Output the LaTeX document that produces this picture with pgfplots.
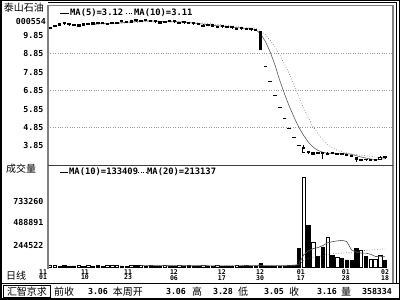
\documentclass[border=0pt]{standalone}
\usepackage{pgfplots}
\pgfplotsset{compat=1.18}
\usepackage{pgfplotstable}
\usepackage{fontspec}
\setmainfont{DejaVu Sans Mono}
\newfontfamily\cjk{Noto Sans CJK SC}
\newcommand\nf{\fontsize{8.3}{9}\selectfont\bfseries}
\newcommand\lf{\fontsize{8.8}{9}\selectfont\bfseries}
\newcommand\df{\fontsize{6.5}{5.4}\selectfont\bfseries}
\newcommand\cf{\cjk\fontsize{10}{11}\selectfont}

\pgfplotstableread{
i o h l c v
0 10.18 10.28 10.15 10.24 15
1 10.30 10.40 10.28 10.36 22
2 10.39 10.50 10.37 10.45 12
6 10.33 10.42 10.31 10.39 20
7 10.39 10.48 10.37 10.45 9
8 10.41 10.51 10.39 10.47 16
9 10.44 10.54 10.42 10.50 12
12 10.41 10.50 10.39 10.47 14
13 10.45 10.55 10.43 10.51 20
14 10.49 10.58 10.47 10.55 16
16 10.52 10.62 10.50 10.58 9
17 10.55 10.66 10.53 10.61 15
19 10.56 10.66 10.54 10.62 13
23 10.50 10.60 10.48 10.56 11
24 10.51 10.61 10.49 10.57 19
27 10.48 10.58 10.46 10.54 15
32 10.32 10.42 10.30 10.38 21
35 10.24 10.34 10.22 10.30 16
39 10.14 10.24 10.12 10.20 15
53 3.50 3.88 3.50 3.74 1000
55 3.41 3.50 3.39 3.47 275
58 3.39 3.50 3.37 3.45 325
60 3.39 3.47 3.37 3.45 108
65 3.04 3.14 3.02 3.10 180
67 3.06 3.16 3.04 3.12 90
68 3.07 3.17 3.05 3.13 90
69 3.14 3.28 3.12 3.24 135
}\upT

\pgfplotstableread{
i o h l c v
3 10.51 10.53 10.40 10.44 18
4 10.47 10.49 10.36 10.40 10
5 10.45 10.47 10.34 10.38 14
10 10.55 10.57 10.45 10.48 18
11 10.54 10.56 10.44 10.47 11
15 10.64 10.66 10.54 10.57 12
18 10.68 10.70 10.58 10.61 22
20 10.69 10.71 10.59 10.62 10
21 10.67 10.69 10.57 10.60 17
22 10.62 10.64 10.52 10.55 14
25 10.63 10.65 10.53 10.56 13
26 10.62 10.64 10.52 10.55 9
28 10.57 10.59 10.47 10.50 12
29 10.54 10.56 10.44 10.47 18
30 10.51 10.53 10.41 10.44 10
31 10.47 10.49 10.37 10.40 14
33 10.42 10.44 10.32 10.35 12
34 10.40 10.42 10.30 10.33 9
36 10.35 10.37 10.25 10.28 11
37 10.33 10.35 10.23 10.26 13
38 10.30 10.32 10.20 10.23 10
40 10.24 10.26 10.14 10.17 12
41 10.21 10.23 10.11 10.14 17
42 10.19 10.21 10.09 10.12 9
43 10.15 10.17 10.05 10.08 14
44 10.03 10.05 9.04 9.04 38
54 3.55 3.60 3.40 3.47 466
56 3.50 3.52 3.42 3.46 120
57 3.48 3.50 3.12 3.42 225
59 3.51 3.53 3.44 3.48 130
61 3.44 3.46 3.36 3.40 92
62 3.41 3.43 3.33 3.36 80
63 3.34 3.36 3.25 3.28 72
64 3.24 3.26 2.98 3.12 205
66 3.14 3.16 3.06 3.10 120
70 3.26 3.28 3.16 3.20 72
}\downT

\pgfplotstableread{
i c v
45 8.14 8
46 7.32 6
47 6.59 7
48 5.93 9
49 5.34 12
50 4.80 15
51 4.32 25
52 3.89 205
}\flatT

\pgfplotstableread{
i ma5 ma10
9 10.438 10.408
11 10.474 10.443
13 10.486 10.452
15 10.514 10.486
17 10.564 10.521
19 10.598 10.547
21 10.612 10.574
23 10.590 10.587
25 10.568 10.588
27 10.556 10.578
29 10.524 10.552
31 10.470 10.514
33 10.408 10.476
35 10.352 10.426
37 10.304 10.371
39 10.254 10.317
41 10.200 10.264
43 10.142 10.211
44 9.910 10.082
45 9.504 9.866
46 8.940 9.570
47 8.234 9.203
48 7.404 8.773
49 6.664 8.287
50 5.996 7.750
51 5.396 7.168
52 4.856 6.545
53 4.418 5.911
54 4.044 5.354
55 3.778 4.887
56 3.606 4.501
57 3.512 4.184
58 3.454 3.936
59 3.456 3.750
60 3.452 3.615
61 3.440 3.523
62 3.428 3.470
63 3.394 3.424
64 3.322 3.389
65 3.252 3.352
66 3.192 3.316
67 3.144 3.286
68 3.114 3.254
69 3.138 3.230
70 3.158 3.205
}\maT

\pgfplotstableread{
i m10 m20
19 15.0 14.9
29 13.8 14.4
39 13.1 13.45
44 15.5 14.4
48 13.5 13.9
51 14.3 13.95
52 34.0 23.0
53 135.0 73.0
54 178.0 96.0
55 205.0 109.0
56 216.0 115.0
57 238.0 126.0
58 269.0 142.0
59 281.0 148.0
60 290.0 152.0
61 296.0 156.0
62 283.0 159.0
63 190.0 162.0
64 164.0 171.0
65 155.0 179.0
66 155.0 185.0
67 141.0 189.0
68 117.0 193.0
69 118.0 199.0
70 113.0 202.0
}\vmaT

\begin{document}
\begin{tikzpicture}
\useasboundingbox (0pt,0pt) rectangle (400pt,300pt);
\fill[white] (0pt,0pt) rectangle (400pt,300pt);

% ---------- price panel ----------
\begin{axis}[at={(48pt,135pt)}, anchor=south west, scale only axis,
  width=345pt, height=159pt,
  xmin=-0.42, xmax=71.67, ymin=2.82, ymax=11.42,
  xtick=\empty,
  ytick={3.85,4.85,5.85,6.85,7.85,8.85,9.85},
  yticklabels={3.85,4.85,5.85,6.85,7.85,8.85,9.85},
  yticklabel style={font=\nf, xshift=-1pt},
  major tick length=0pt,
  extra y ticks={4.85,6.85,8.85}, extra y tick labels={},
  extra y tick style={grid=major, major grid style={gray!80, dotted, line width=0.7pt}},
  axis line style={draw=none}]
\addplot[gray!70!black, line width=0.6pt] table[x=i,y=ma5]{\maT};
\addplot[gray!70!black, line width=0.6pt, dotted] table[x=i,y=ma10]{\maT};
% wicks
\addplot[draw=none, error bars/.cd, y dir=plus, y explicit, error mark=none,
  error bar style={draw=black, line width=0.6pt}]
  table[x=i, y=l, y error expr=\thisrow{h}-\thisrow{l}]{\downT};
\addplot[draw=none, error bars/.cd, y dir=plus, y explicit, error mark=none,
  error bar style={draw=black, line width=0.6pt}]
  table[x=i, y=l, y error expr=\thisrow{h}-\thisrow{l}]{\upT};
% falling bodies
\addplot[draw=none, error bars/.cd, y dir=both, y explicit, error mark=none,
  error bar style={draw=black, line width=3.4pt}]
  table[x=i, y expr=(\thisrow{o}+\thisrow{c})/2, y error expr=(\thisrow{o}-\thisrow{c})/2+0.02]{\downT};
% rising bodies (hollow)
\addplot[draw=none, error bars/.cd, y dir=both, y explicit, error mark=none,
  error bar style={draw=black, line width=3.6pt}]
  table[x=i, y expr=(\thisrow{o}+\thisrow{c})/2, y error expr=(\thisrow{c}-\thisrow{o})/2+0.03]{\upT};
\addplot[draw=none, error bars/.cd, y dir=both, y explicit, error mark=none,
  error bar style={draw=white, line width=1.8pt}]
  table[x=i, y expr=(\thisrow{o}+\thisrow{c})/2, y error expr=(\thisrow{c}-\thisrow{o})/2-0.03]{\upT};
% limit days
\addplot[only marks, mark=-, mark size=1.8pt, mark options={black, line width=0.9pt}]
  table[x=i,y=c]{\flatT};
\end{axis}

% ---------- volume panel ----------
\begin{axis}[at={(48pt,31pt)}, anchor=south west, scale only axis,
  width=345pt, height=104pt,
  xmin=-0.42, xmax=71.67, ymin=-22, ymax=1133,
  xtick=\empty,
  ytick={244.522,488.891,733.26},
  yticklabels={244522,488891,733260},
  yticklabel style={font=\nf, xshift=-1pt},
  major tick length=0pt,
  axis line style={draw=none}, clip=false]
\addplot[ybar, bar width=3.4pt, bar shift=0pt, fill=black, draw=black, line width=0.5pt] table[x=i,y=v]{\downT};
\addplot[ybar, bar width=3.4pt, bar shift=0pt, fill=black, draw=black, line width=0.5pt] table[x=i,y=v]{\flatT};
\addplot[ybar, bar width=3.4pt, bar shift=0pt, fill=white, draw=black, line width=0.7pt] table[x=i,y=v]{\upT};
\addplot[gray!60!black, line width=0.6pt] table[x=i,y=m10]{\vmaT};
\addplot[gray!60!black, line width=0.6pt, dotted] table[x=i,y=m20]{\vmaT};
\node[font=\df, align=center, inner sep=0pt] at (axis cs:-1.46,-88) {11\\01};
\node[font=\df, align=center, inner sep=0pt] at (axis cs:7.31,-88) {11\\10};
\node[font=\df, align=center, inner sep=0pt] at (axis cs:16.3,-88) {11\\23};
\node[font=\df, align=center, inner sep=0pt] at (axis cs:25.9,-88) {12\\06};
\node[font=\df, align=center, inner sep=0pt] at (axis cs:35.9,-88) {12\\17};
\node[font=\df, align=center, inner sep=0pt] at (axis cs:43.9,-88) {12\\30};
\node[font=\df, align=center, inner sep=0pt] at (axis cs:52.4,-88) {01\\17};
\node[font=\df, align=center, inner sep=0pt] at (axis cs:61.8,-88) {01\\28};
\node[font=\df, align=center, inner sep=0pt] at (axis cs:70,-88) {02\\18};
\end{axis}

\begin{scope}[x=1pt,y=1pt]
% ---------- frame ----------
\draw[gray, line width=1.5pt] (48,31) -- (48,294.5) -- (393,294.5) -- (393,16);
\draw[gray!50!black, line width=0.8pt] (48,135) -- (393,135);
\draw[black, line width=0.8pt] (396.5,16) -- (396.5,298);
\draw[black, line width=0.8pt] (48,298) -- (396.5,298);
\draw[black, line width=1pt] (1,16) -- (399,16);
\draw[black, line width=1.5pt] (0.75,0.75) rectangle (399.25,299.25);
\draw[black, line width=0.8pt] (3,2.5) rectangle (50.5,14.5);

% ---------- labels ----------
\node[font=\cf, anchor=center, inner sep=0pt] at (24,292) {泰山石油};
\node[font=\nf, anchor=east, inner sep=0pt] at (46,278.5) {000554};
\node[font=\cf, anchor=center, inner sep=0pt] at (21,131) {成交量};
\node[font=\cf, anchor=center, inner sep=0pt] at (16,24) {日线};

\draw[black, line width=0.7pt] (60,287) -- (69,287);
\node[font=\lf, anchor=west, inner sep=0pt] at (70,287) {MA(5)=3.12};
\draw[black, line width=0.7pt, dotted] (126,287) -- (134,287);
\node[font=\lf, anchor=west, inner sep=0pt] at (134,287) {MA(10)=3.11};

\draw[black, line width=0.7pt] (60,128) -- (68,128);
\node[font=\lf, anchor=west, inner sep=0pt] at (69,128) {MA(10)=133409};
\draw[black, line width=0.7pt, dotted] (138,128) -- (147,128);
\node[font=\lf, anchor=west, inner sep=0pt] at (147,128) {MA(20)=213137};

% ---------- status bar ----------
\node[font=\cf, inner sep=0pt] at (27,8.5) {汇智京求};
\node[font=\cf, inner sep=0pt] at (64,8.5) {前收};
\node[font=\nf, inner sep=0pt] at (98,8.5) {3.06};
\node[font=\cf, inner sep=0pt] at (128,8.5) {本周开};
\node[font=\nf, inner sep=0pt] at (176,8.5) {3.06};
\node[font=\cf, inner sep=0pt] at (197,8.5) {高};
\node[font=\nf, inner sep=0pt] at (223,8.5) {3.28};
\node[font=\cf, inner sep=0pt] at (243,8.5) {低};
\node[font=\nf, inner sep=0pt] at (274,8.5) {3.05};
\node[font=\cf, inner sep=0pt] at (294,8.5) {收};
\node[font=\nf, inner sep=0pt] at (327,8.5) {3.16};
\node[font=\cf, inner sep=0pt] at (346,8.5) {量};
\node[font=\nf, inner sep=0pt] at (377,8.5) {358334};
\end{scope}
\end{tikzpicture}
\end{document}
